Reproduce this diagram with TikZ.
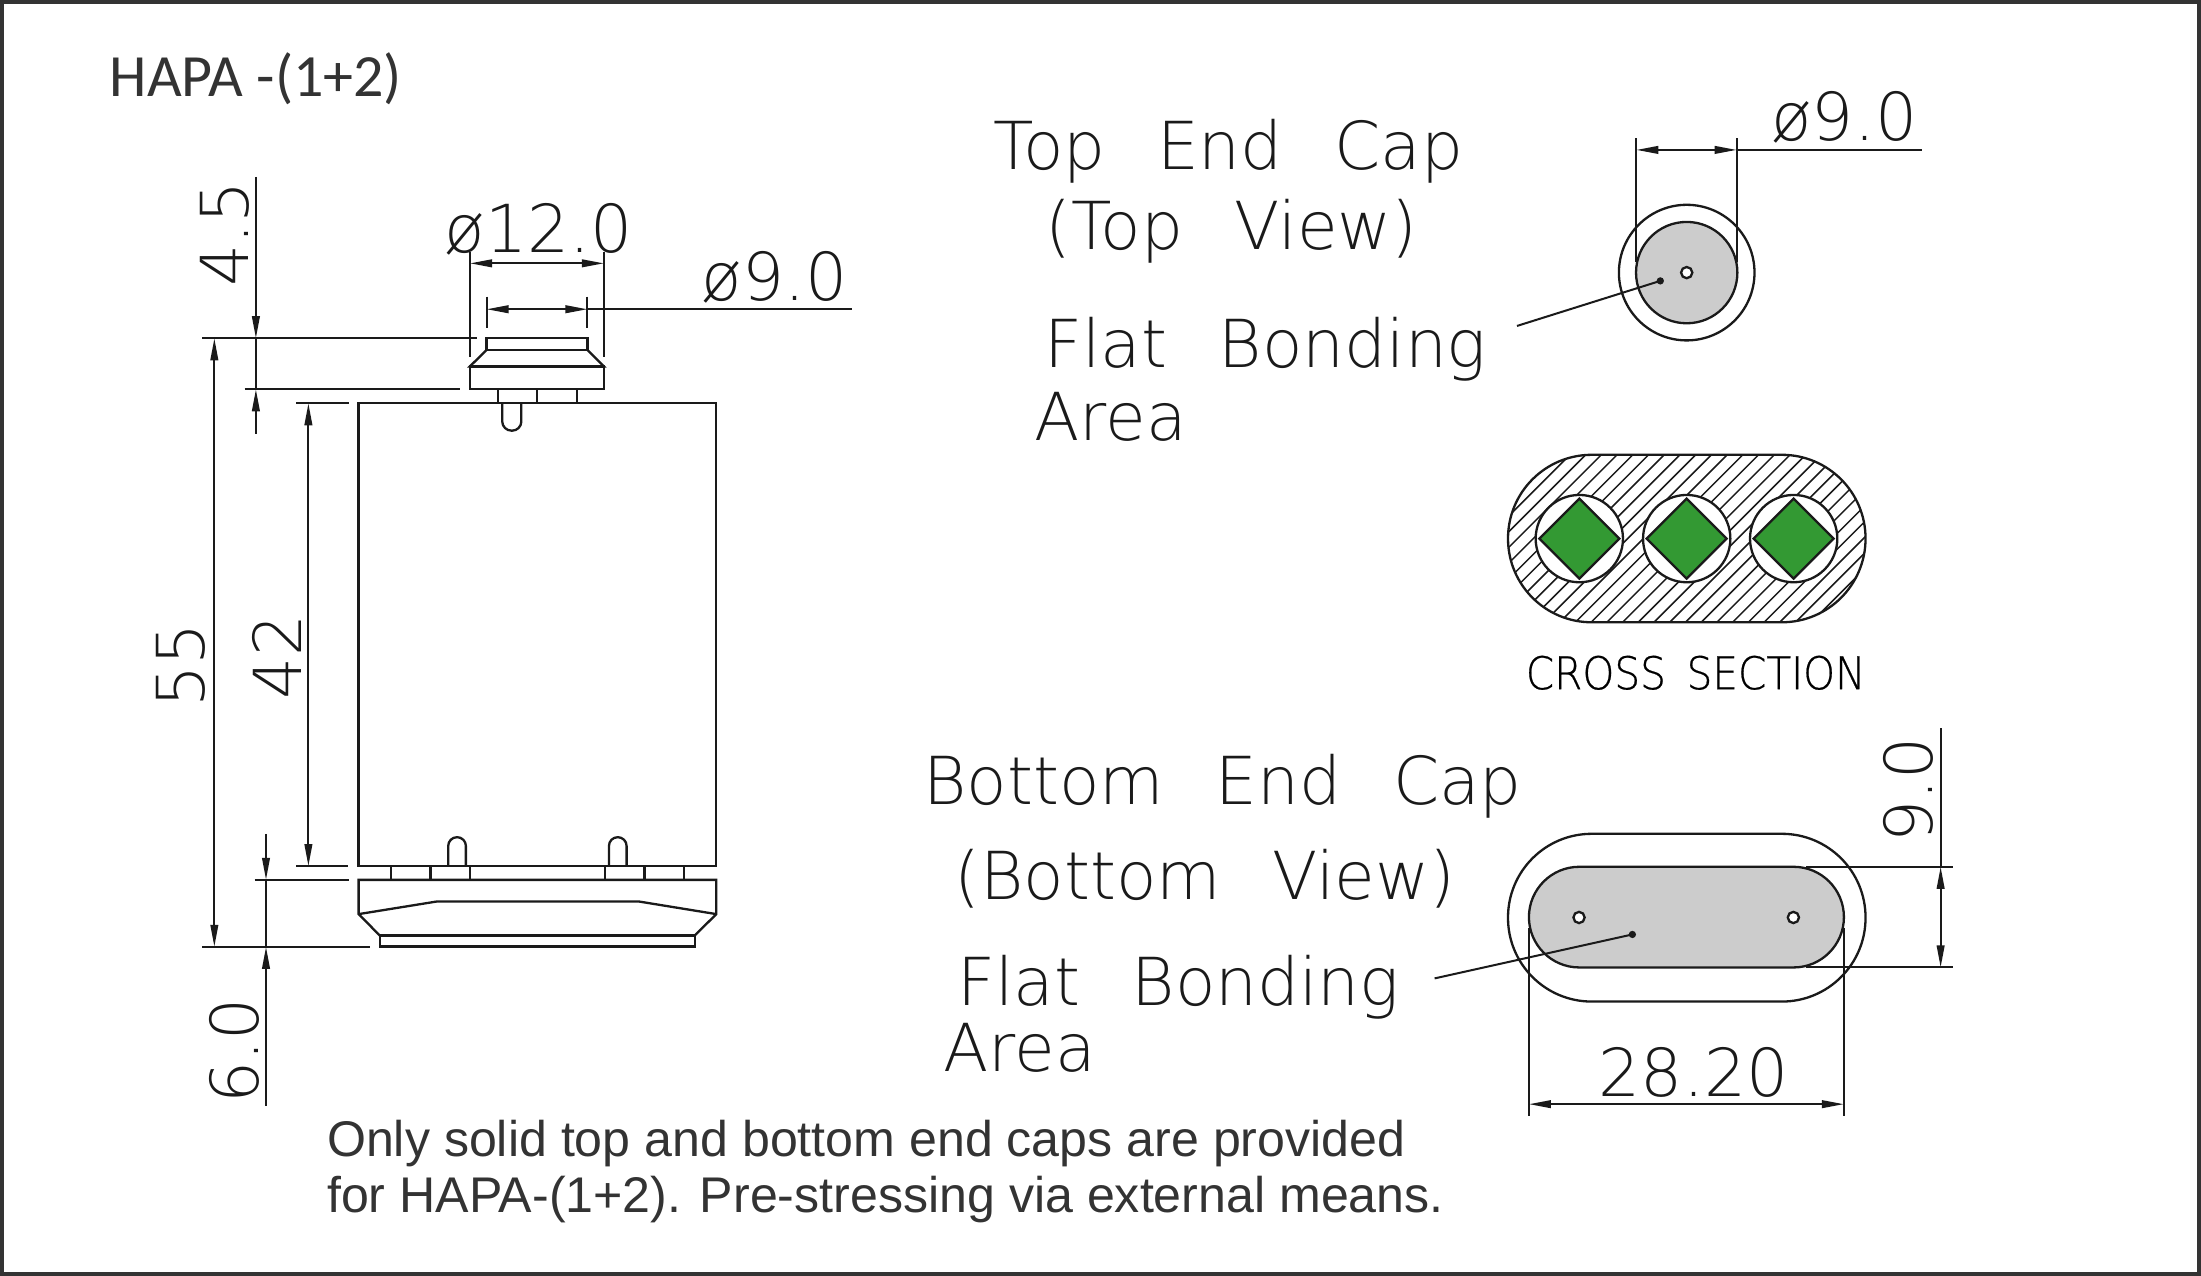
\documentclass[tikz,border=0pt]{standalone}
\usepackage{fontspec}
\usetikzlibrary{arrows.meta}
\setmainfont{Liberation Sans}
\newfontfamily\cadfont[WordSpace=2.45]{DejaVu Sans ExtraLight}
\newfontfamily\csfont[FakeStretch=0.9,FakeBold=0.5,WordSpace=1.6]{DejaVu Sans ExtraLight}
\newfontfamily\calfont{Carlito}
\definecolor{ink}{HTML}{1A1A1A}
\definecolor{txt}{HTML}{333333}
\definecolor{cap}{HTML}{CCCCCC}
\definecolor{core}{HTML}{339933}
\tikzset{
  >={Triangle[length=11pt,width=3.8pt]},
  part/.style={draw=ink,line width=1.15pt,line join=miter},
  dim/.style={draw=ink,line width=1pt},
  hatchline/.style={draw=ink,line width=0.75pt},
  lab/.style={anchor=base west,inner sep=0pt,outer sep=0pt,text=ink,font=\cadfont\fontsize{33}{40}\selectfont},
  labv/.style={lab,rotate=90},
  note/.style={anchor=base west,inner sep=0pt,outer sep=0pt,text=txt,font=\fontsize{25}{30}\selectfont},
}
\begin{document}
\begin{tikzpicture}[x=0.7pt,y=-0.7pt]
\useasboundingbox (0,0) rectangle (1568,909);
\draw[draw=txt,line width=2pt] (1.5,1.5) rectangle (1566.5,907.5);
\node[anchor=base west,inner sep=0pt,text=txt,font=\calfont\fontsize{29.9}{36}\selectfont] (title) at (78,68.5) {HAPA -(1+2)};

% side view
\draw[part] (255.5,287.3) rectangle (510,617);
\draw[part] (346.6,241) rectangle (418.5,249.3);
\draw[part] (346.6,249.3) -- (334.8,261) -- (430.2,261) -- (418.5,249.3);
\draw[part] (334.8,261) rectangle (430.2,277.3);
\foreach \x in {354.6,382.5,410.9} \draw[part] (\x,277.3) -- (\x,287.3);
\draw[part,rounded corners=4.6pt] (357.8,287.3) -- (357.8,306.8) -- (371.4,306.8) -- (371.4,287.3);
\foreach \x in {319.3,433.8} \draw[part,rounded corners=4.4pt] (\x,617) -- (\x,596.4) -- (\x+12.6,596.4) -- (\x+12.6,617);
\foreach \x in {278.4,306.6,334.6,430.8,459.2,487.1} \draw[part] (\x,617) -- (\x,626.8);
\draw[part] (255.5,626.8) -- (510.3,626.8) -- (510.3,651.2) -- (495,666.4) -- (270.5,666.4) -- (255.5,651.2) -- cycle;
\draw[part] (255.5,651.2) -- (311.3,642.2) -- (455,642.2) -- (510.3,651.2);
\draw[part] (270.5,666.4) rectangle (495,674.3);

% side view dimensions
\draw[dim] (144,241) -- (339.7,241);
\draw[dim] (174.3,277.3) -- (328,277.3);
\draw[dim] (211,287.3) -- (248.3,287.3);
\draw[dim] (211,617) -- (248,617);
\draw[dim] (181.4,626.8) -- (248.6,626.8);
\draw[dim] (144,674.5) -- (263.6,674.5);
\draw[dim] (182.3,241) -- (182.3,277.3);
\draw[dim,->] (182.3,126) -- (182.3,241);
\draw[dim,->] (182.3,309) -- (182.3,277.3);
\draw[dim,<->] (152.7,241) -- (152.7,674.5);
\draw[dim,<->] (219.7,287.3) -- (219.7,617);
\draw[dim] (189.5,626.8) -- (189.5,674.5);
\draw[dim,->] (189.5,594) -- (189.5,626.8);
\draw[dim,->] (189.5,787.7) -- (189.5,674.5);
\draw[dim] (334.8,179.3) -- (334.8,254);
\draw[dim] (430.2,179.3) -- (430.2,254);
\draw[dim,<->] (334.8,187.6) -- (430.2,187.6);
\draw[dim] (346.6,211.3) -- (346.6,233.8);
\draw[dim] (418.5,211.3) -- (418.5,233.8);
\draw[dim,<->] (346.6,220.3) -- (418.5,220.3);
\draw[dim] (418.5,220.3) -- (606.7,220.3);
\node[lab] (d12) at (317,180) {ø12.0};
\node[lab] (d9a) at (500,214) {ø9.0};
\node[labv] (l45) at (177,204) {4.5};
\node[labv] (l55) at (146,504) {55};
\node[labv] (l42) at (215,498) {42};
\node[labv] (l60) at (184,786) {6.0};

% top end cap
\draw[part,fill=white] (1201.6,194.2) circle[radius=48.3];
\draw[part,fill=cap] (1201.6,194.2) circle[radius=36.1];
\draw[part,fill=white] (1201.6,194.2) circle[radius=4];
\draw[dim] (1165.7,98.5) -- (1165.7,186.4);
\draw[dim] (1237.2,98.5) -- (1237.2,186.4);
\draw[dim,<->] (1165.7,106.8) -- (1237.2,106.8);
\draw[dim] (1237.2,106.8) -- (1369.4,106.8);
\fill[ink] (1182.8,200.1) circle[radius=2.6];
\draw[dim] (1182.8,200.1) -- (1080.7,232.2);
\node[lab] (d9b) at (1262,100) {ø9.0};
\node[lab] (t1) at (708,121) {Top End Cap};
\node[lab] (t2) at (745,178) {(Top View)};
\node[lab] (t3) at (744,262) {Flat Bonding};
\node[lab] (t4) at (737,314) {Area};

% cross section
\begin{scope}
\clip[rounded corners=41.7pt] (1074.3,324) rectangle (1329,443.3);
\foreach \k in {-6,...,29}
  \draw[hatchline] ({1453.6+11.2*\k-300},300) -- ({1453.6+11.2*\k-470},470);
\end{scope}
\draw[part,rounded corners=41.7pt] (1074.3,324) rectangle (1329,443.3);
\foreach \x in {1125.1,1201.6,1277.8} {
  \draw[part,fill=white] (\x,383.7) circle[radius=31.1];
  \draw[part,fill=core] (\x-28.5,383.7) -- (\x,355.2) -- (\x+28.5,383.7) -- (\x,412.2) -- cycle;
}
\node[lab,font=\csfont\fontsize{22.5}{27}\selectfont,text=black] (cs) at (1087,491) {CROSS SECTION};

% bottom end cap
\draw[part] [rounded corners=41.7pt] (1074.3,594) rectangle (1329,713.5);
\draw[part,fill=cap] [rounded corners=25.1pt] (1089.2,617.5) rectangle (1313.6,689.2);
\foreach \x in {1124.9,1277.6} \draw[part,fill=white] (\x,653.6) circle[radius=4];
\draw[dim] (1286.8,617.5) -- (1391,617.5);
\draw[dim] (1286.8,689.2) -- (1391,689.2);
\draw[dim] (1382.5,518.7) -- (1382.5,617.5);
\draw[dim,<->] (1382.5,617.5) -- (1382.5,689.2);
\draw[dim] (1089.2,661) -- (1089.2,794.9);
\draw[dim] (1313.6,661) -- (1313.6,794.9);
\draw[dim,<->] (1089.2,786.6) -- (1313.6,786.6);
\fill[ink] (1162.9,665.7) circle[radius=2.6];
\draw[dim] (1162.9,665.7) -- (1022,697);
\node[labv] (l90) at (1377,600) {9.0};
\node[lab] (w28) at (1139,781) {28.20};
\node[lab] (b1) at (658,573) {Bottom End Cap};
\node[lab] (b2) at (680,641) {(Bottom View)};
\node[lab] (b3) at (682,716) {Flat Bonding};
\node[lab] (b4) at (672,763) {Area};

% note
\node[note] (n1) at (233,824) {Only solid top and bottom end caps are provided};
\node[note] (n2) at (233,864) {for HAPA-(1+2). Pre-stressing via external means.};
\end{tikzpicture}
\end{document}
